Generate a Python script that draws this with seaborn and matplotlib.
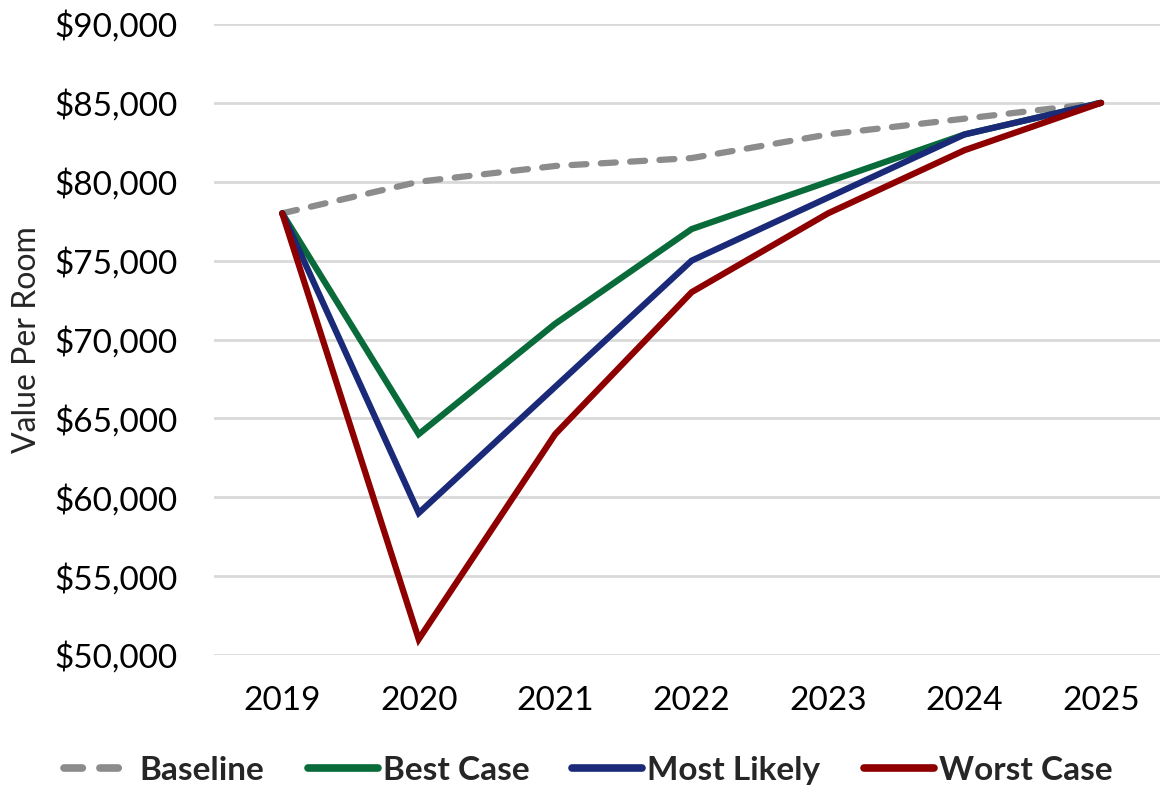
import matplotlib
matplotlib.use("Agg")
import matplotlib.pyplot as plt
from matplotlib.ticker import FuncFormatter, MultipleLocator
import seaborn as sns
import pandas as pd

years = [2019, 2020, 2021, 2022, 2023, 2024, 2025]
baseline = [78000, 80000, 81000, 81500, 83000, 84000, 85000]
best_case = [78000, 64000, 71000, 77000, 80000, 83000, 85000]
most_likely = [78000, 59000, 67000, 75000, 79000, 83000, 85000]
worst_case = [78000, 51000, 64000, 73000, 78000, 82000, 85000]

series_names = ["Baseline", "Best Case", "Most Likely", "Worst Case"]
series_values = [baseline, best_case, most_likely, worst_case]
colors = ["#8C8C8C", "#086B39", "#1B2A78", "#8E0000"]

rows = []
for name, vals in zip(series_names, series_values):
    for i, (yr, v) in enumerate(zip(years, vals)):
        rows.append({"pos": i, "Year": str(yr), "Scenario": name, "Value": v})
df = pd.DataFrame(rows)

sns.set_theme(style="white")
plt.rcParams["font.family"] = ["Lato", "DejaVu Sans"]

fig = plt.figure(figsize=(11.6, 7.89), dpi=100)
# category axis: 7 slots, the last one half cut off by the figure edge
ax = fig.add_axes([0.1845, 0.1698, 0.8235, 0.7998])

sns.lineplot(
    data=df, x="pos", y="Value", hue="Scenario", style="Scenario",
    hue_order=series_names, style_order=series_names,
    palette=dict(zip(series_names, colors)),
    dashes={"Baseline": (2.4, 2.3), "Best Case": "", "Most Likely": "", "Worst Case": ""},
    linewidth=4.5, ax=ax, legend=True, sort=False,
)
for line in ax.get_lines():
    line.set_solid_capstyle("round")
    line.set_dash_capstyle("round")
    line.set_solid_joinstyle("miter")
    line.set_clip_on(False)

ax.set_xlim(-0.5, len(years) - 0.5)
ax.set_ylim(50000, 90000)
ax.yaxis.set_major_locator(MultipleLocator(5000))
ax.yaxis.set_major_formatter(FuncFormatter(lambda v, p: f"${v:,.0f}"))
ax.set_xticks(range(len(years)))
ax.set_xticklabels([str(y) for y in years])
ax.tick_params(axis="y", labelsize=24, pad=26, length=0, colors="black")
ax.tick_params(axis="x", labelsize=24, pad=22, length=0, colors="black")
ax.grid(axis="y", color="#D9D9D9", linewidth=2)
ax.set_axisbelow(True)
for s in ax.spines.values():
    s.set_visible(False)
ax.set_xlabel("")
ax.set_ylabel("Value Per Room", fontsize=23, labelpad=9)

handles, labels = ax.get_legend_handles_labels()
leg = ax.legend(
    handles, labels, loc="center", bbox_to_anchor=(0.392, -0.183),
    ncol=4, frameon=False, handlelength=2.1, handletextpad=0.15,
    columnspacing=1.3, prop={"size": 24, "weight": "bold"},
)
for lh in leg.get_lines():
    lh.set_linewidth(5.5)

fig.savefig("out.png", dpi=100)
